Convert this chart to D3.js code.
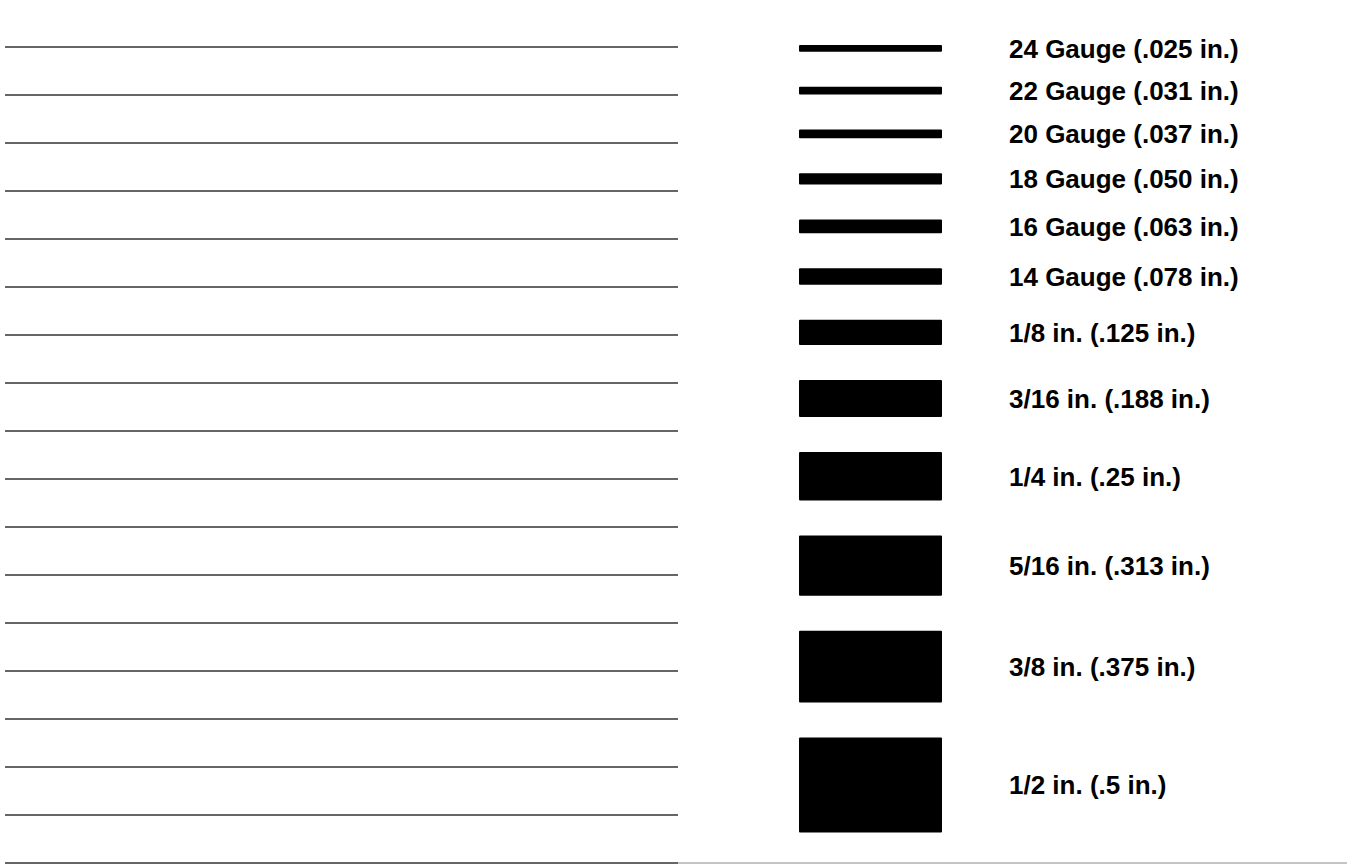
<!DOCTYPE html>
<html>
<head>
<meta charset="utf-8">
<script src="https://cdn.jsdelivr.net/npm/d3@7"></script>
<style>
  body { margin: 0; background: #fff; }
  svg { display: block; }
  .label { font-family: "Liberation Sans", Arial, Helvetica, sans-serif; font-weight: bold; font-size: 26px; fill: #000; }
  .rule { stroke: #333; stroke-width: 1.3; }
</style>
</head>
<body>
<svg width="1354" height="867"></svg>
<script>
// gauge / plate thickness chart
var names = ["24 Gauge", "22 Gauge", "20 Gauge", "18 Gauge", "16 Gauge", "14 Gauge",
             "1/8 in.", "3/16 in.", "1/4 in.", "5/16 in.", "3/8 in.", "1/2 in."];
var thickness = [0.025, 0.031, 0.037, 0.050, 0.063, 0.078,
                 0.125, 0.188, 0.25, 0.313, 0.375, 0.5];
var thicknessText = [".025", ".031", ".037", ".050", ".063", ".078",
                     ".125", ".188", ".25", ".313", ".375", ".5"];
var ruleCount = 18;

var svg = d3.select("svg");

// ruled writing lines on the left
var ruleY = d3.scaleLinear().domain([0, ruleCount - 1]).range([47, 863]);
svg.append("g").selectAll("line")
    .data(d3.range(ruleCount))
    .enter().append("line")
    .attr("class", "rule")
    .attr("x1", 5)
    .attr("x2", 678)
    .attr("y1", function(d) { return ruleY(d); })
    .attr("y2", function(d) { return ruleY(d); });

// grey continuation of the bottom line
svg.append("line")
    .attr("x1", 678).attr("x2", 1347)
    .attr("y1", ruleY(ruleCount - 1)).attr("y2", ruleY(ruleCount - 1))
    .attr("stroke", "#c4c4c4")
    .attr("stroke-width", 2);

// bar thickness scale (px per inch, with a small floor for thin gauges)
var h = d3.scaleLinear().domain([0, 0.5]).range([2, 95]);
var x = d3.scaleLinear().domain([0, 1]).range([799, 942]);
var gap = 35, top0 = 45;

// stack bars top to bottom
var rows = [];
var cursor = top0;
thickness.forEach(function(t, i) {
    rows.push({ name: names[i], t: t, txt: thicknessText[i], y: cursor, h: h(t) });
    cursor += h(t) + gap;
});

var g = svg.append("g");

g.selectAll("rect")
    .data(rows)
    .enter().append("rect")
    .attr("x", x(0))
    .attr("width", x(1) - x(0))
    .attr("y", function(d) { return d.y; })
    .attr("height", function(d) { return d.h; })
    .attr("rx", 1)
    .attr("fill", "#000");

g.selectAll("text")
    .data(rows)
    .enter().append("text")
    .attr("class", "label")
    .attr("x", 1009)
    .attr("y", function(d) { return d.y + d.h / 2; })
    .attr("dy", "0.36em")
    .text(function(d) { return d.name + " (" + d.txt + " in.)"; });
</script>
</body>
</html>
